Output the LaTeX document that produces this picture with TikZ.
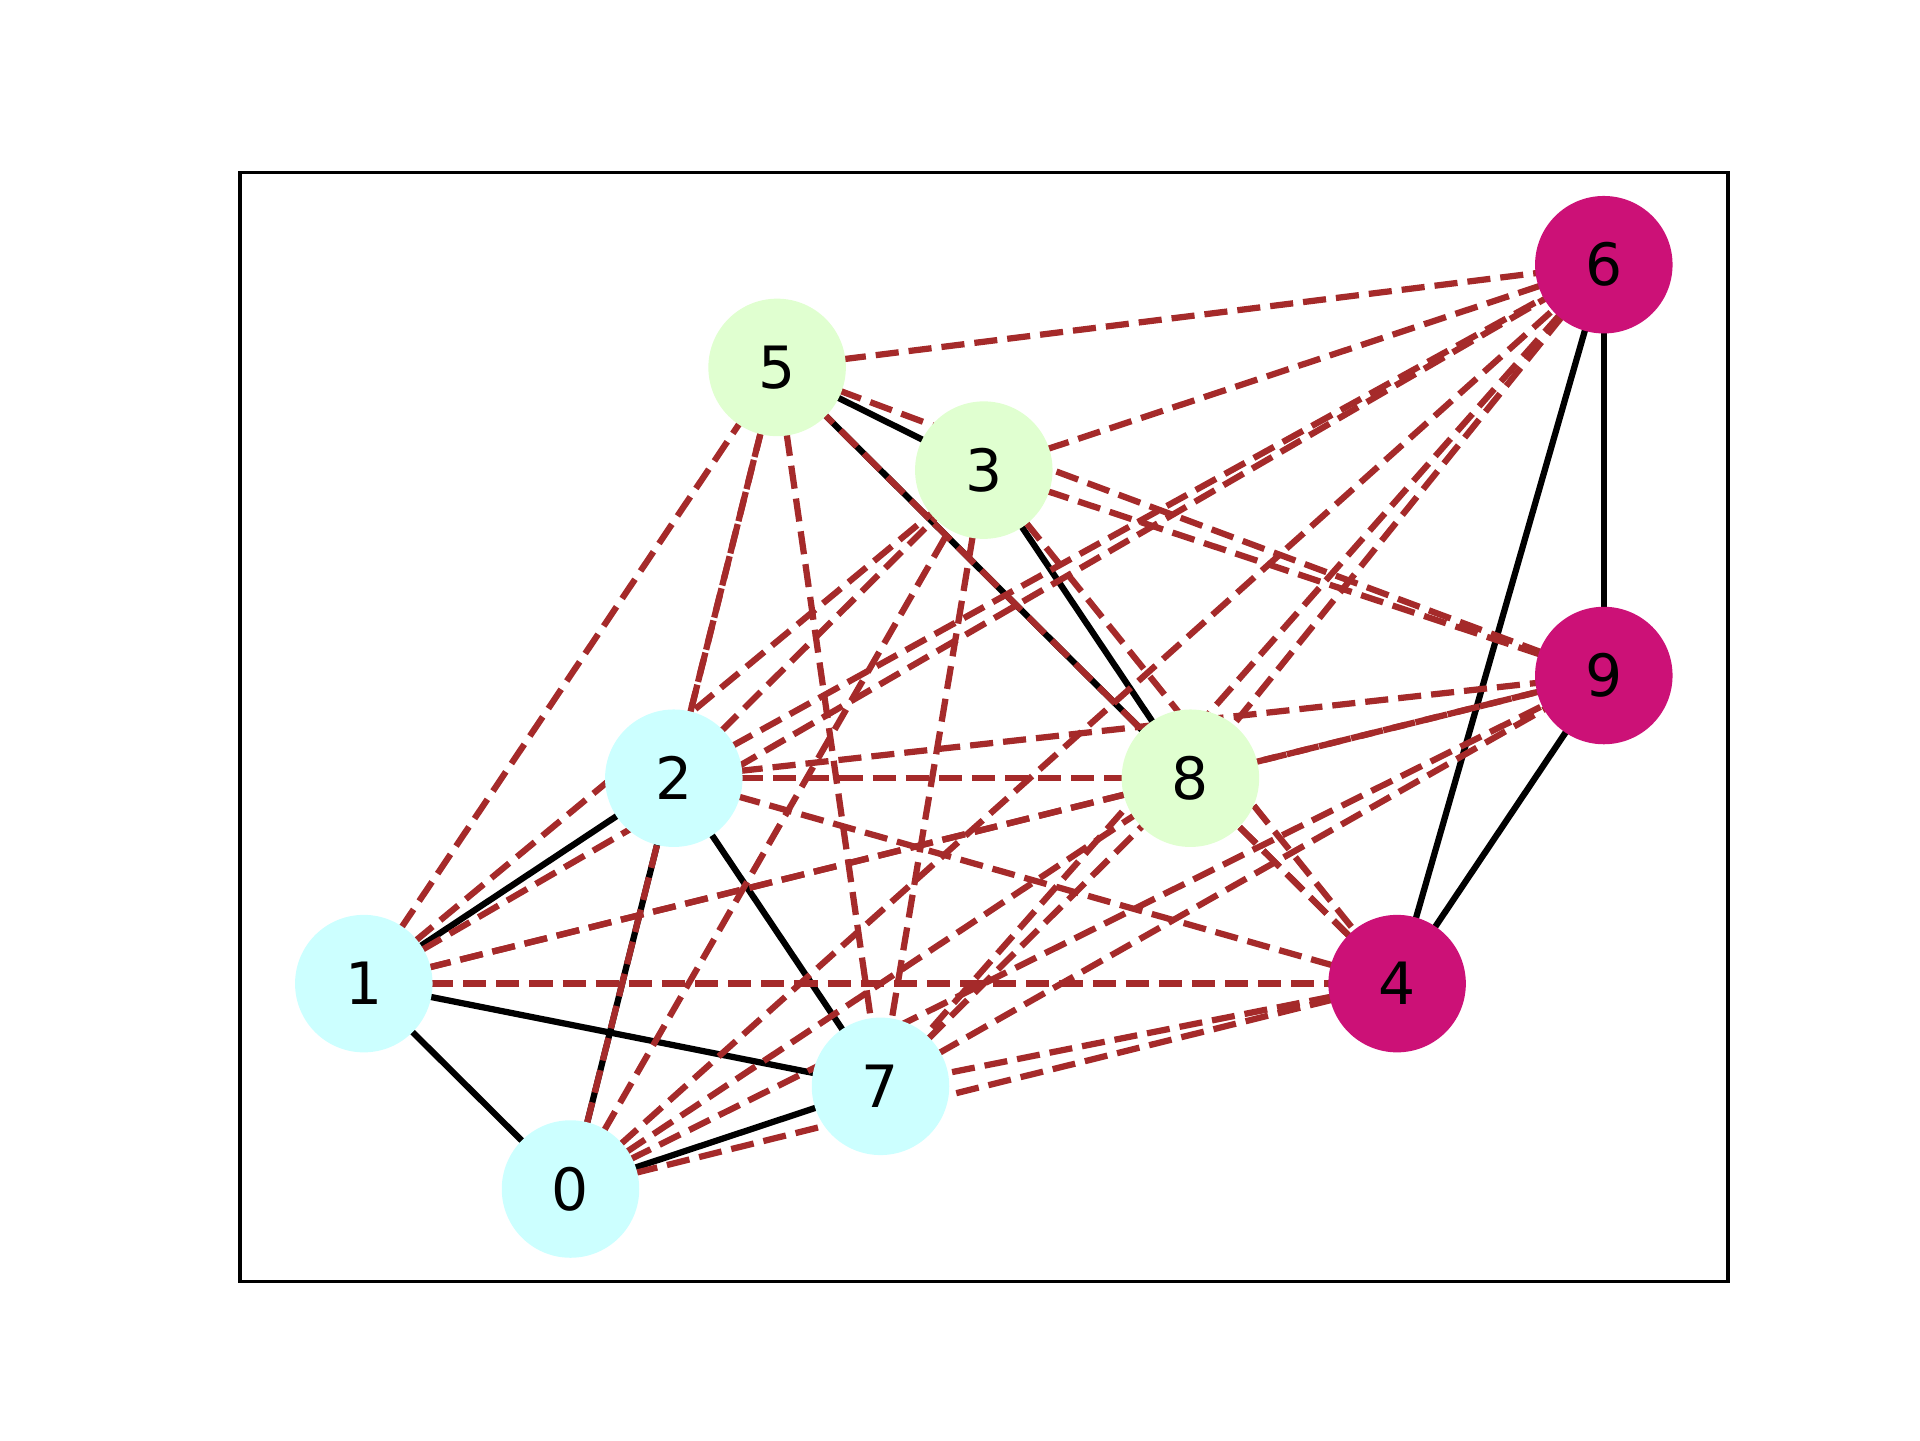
\documentclass[tikz,border=0pt]{standalone}
\usepackage{fontspec}
\setmainfont{DejaVu Sans}
\usetikzlibrary{backgrounds}
\definecolor{cyannode}{RGB}{204,255,255}
\definecolor{greennode}{RGB}{224,255,208}
\definecolor{magentanode}{RGB}{204,17,119}
\definecolor{brownedge}{RGB}{165,42,42}
\tikzset{
  vertex/.style={circle, inner sep=0pt, minimum size=33pt, text=black,
    font=\fontsize{14}{16}\selectfont},
  groupA/.style={vertex, fill=cyannode},
  groupB/.style={vertex, fill=greennode},
  groupC/.style={vertex, fill=magentanode},
  inner edge/.style={draw=black, line width=1.5pt},
  cross edge/.style={draw=brownedge, line width=1.5pt, dash pattern=on 5.55pt off 2.4pt},
  frame/.style={draw=black, line width=0.8pt}
}
\begin{document}
\begin{tikzpicture}[x=0.24pt, y=-0.24pt]
  \useasboundingbox (0,0) rectangle (1920,1440);
  \draw[frame] (240,172.8) rectangle (1728,1281.6);

  % vertices
  \node[groupA] (n0) at (570.5,1189.0) {0};
  \node[groupA] (n1) at (363.8,983.6) {1};
  \node[groupA] (n2) at (673.8,778.2) {2};
  \node[groupB] (n3) at (983.8,470.1) {3};
  \node[groupC] (n4) at (1397.1,983.6) {4};
  \node[groupB] (n5) at (777.1,367.4) {5};
  \node[groupC] (n6) at (1603.8,264.7) {6};
  \node[groupA] (n7) at (880.5,1086.3) {7};
  \node[groupB] (n8) at (1190.4,778.2) {8};
  \node[groupC] (n9) at (1603.8,675.5) {9};

  \begin{scope}[on background layer]
    % edges inside each colour group
    \foreach \a/\b in {0/1,0/2,0/7,1/2,1/7,2/7,3/5,3/8,5/8,4/6,4/9,6/9}
      \draw[inner edge] (n\a.center) -- (n\b.center);
    % edges between colour groups
    \foreach \a/\b in {0/3,0/4,0/5,0/6,0/8,0/9,
                       1/3,1/4,1/5,1/6,1/8,1/9,
                       2/3,2/4,2/5,2/6,2/8,2/9,
                       3/4,3/6,3/7,3/9,
                       4/5,4/7,4/8,
                       5/6,5/7,5/9,
                       6/7,6/8,
                       7/8,7/9,
                       8/9}
      \draw[cross edge] (n\a.center) -- (n\b.center);
  \end{scope}
\end{tikzpicture}
\end{document}
